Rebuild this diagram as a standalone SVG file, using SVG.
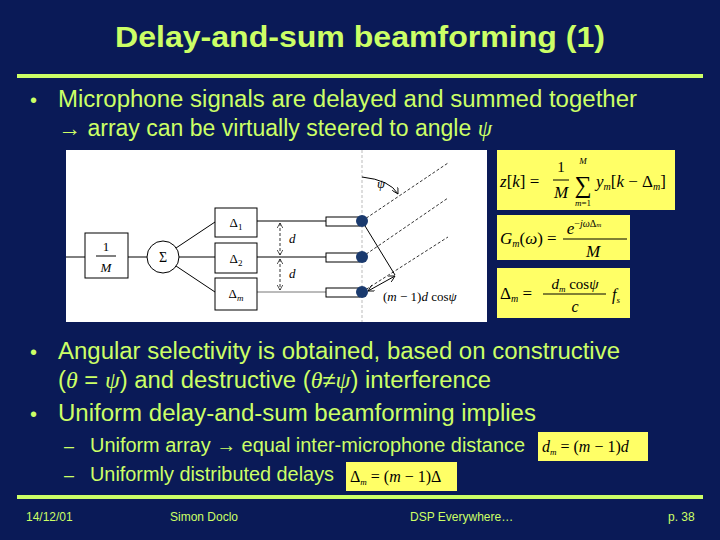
<svg xmlns="http://www.w3.org/2000/svg" width="720" height="540" viewBox="0 0 720 540">
<style>
.t{font-family:"Liberation Sans",Arial,sans-serif;fill:#ccff66}
.m{font-family:"Liberation Serif","Times New Roman",serif;fill:#000}
.i{font-style:italic}
.blk{stroke:#000;fill:#fff;stroke-width:1}
.ln{stroke:#000;stroke-width:1;fill:none}
.ds{stroke:#000;stroke-width:0.8;stroke-dasharray:3,2;fill:none}
.y{fill:#ffff66}
</style>
<defs>
<marker id="ah" viewBox="0 0 10 10" refX="9" refY="5" markerWidth="7" markerHeight="7" orient="auto-start-reverse"><path d="M0,0 L9,5 L0,10" fill="none" stroke="#000" stroke-width="1.2"/></marker>
</defs>
<rect width="720" height="540" fill="#0a1a57"/>
<text class="t" x="115" y="47" font-size="30" font-weight="bold" textLength="490" lengthAdjust="spacingAndGlyphs">Delay-and-sum beamforming (1)</text>
<rect x="17" y="74" width="686" height="4" fill="#ccff66"/>
<rect x="17" y="495" width="686" height="4" fill="#ccff66"/>
<text class="t" x="30" y="107" font-size="20">•</text>
<text class="t" x="58" y="107" font-size="23" textLength="579" lengthAdjust="spacingAndGlyphs">Microphone signals are delayed and summed together</text>
<text class="t" x="58" y="136" font-size="23" textLength="434" lengthAdjust="spacingAndGlyphs"><tspan>→ array can be virtually steered to angle </tspan><tspan class="i" font-family="Liberation Serif">ψ</tspan></text>
<text class="t" x="30" y="359" font-size="20">•</text>
<text class="t" x="58" y="359" font-size="23" textLength="562" lengthAdjust="spacingAndGlyphs">Angular selectivity is obtained, based on constructive</text>
<text class="t" x="58" y="388" font-size="23" textLength="433" lengthAdjust="spacingAndGlyphs">(<tspan font-family="Liberation Serif" class="i">θ</tspan> = <tspan font-family="Liberation Serif" class="i">ψ</tspan>) and destructive (<tspan font-family="Liberation Serif" class="i">θ</tspan>≠<tspan font-family="Liberation Serif" class="i">ψ</tspan>) interference</text>
<text class="t" x="30" y="421" font-size="20">•</text>
<text class="t" x="58" y="421" font-size="23" textLength="478" lengthAdjust="spacingAndGlyphs">Uniform delay-and-sum beamforming implies</text>
<text class="t" x="64" y="452" font-size="18">–</text>
<text class="t" x="90" y="452" font-size="20" textLength="435" lengthAdjust="spacingAndGlyphs">Uniform array → equal inter-microphone distance</text>
<text class="t" x="64" y="481" font-size="18">–</text>
<text class="t" x="90" y="481" font-size="20" textLength="244" lengthAdjust="spacingAndGlyphs">Uniformly distributed delays</text>
<g font-size="12" class="t">
<text class="t" x="26" y="521">14/12/01</text>
<text class="t" x="170" y="521">Simon Doclo</text>
<text class="t" x="410" y="521">DSP Everywhere…</text>
<text class="t" x="668" y="521">p. 38</text>
</g>

<!-- diagram -->
<rect x="66" y="150" width="421" height="172" fill="#fff"/>
<g id="connectors">
<line class="ln" x1="66" y1="257" x2="85" y2="257"/>
<line class="ln" x1="128" y1="257" x2="147" y2="257"/>
<line class="ln" x1="176" y1="248" x2="215" y2="222"/>
<line class="ln" x1="179" y1="257" x2="215" y2="257"/>
<line class="ln" x1="176" y1="266" x2="215" y2="292"/>
<line class="ln" x1="257" y1="221" x2="326" y2="221"/>
<line class="ln" x1="257" y1="257" x2="326" y2="257"/>
<line x1="257" y1="292" x2="326" y2="292" stroke="#777" stroke-width="1"/>
<line x1="362" y1="150" x2="362" y2="322" stroke="#aaa" stroke-width="0.8" stroke-dasharray="3,2"/>
<line class="ds" x1="280" y1="223" x2="280" y2="255" marker-start="url(#ah)" marker-end="url(#ah)"/>
<line class="ds" x1="280" y1="259" x2="280" y2="290" marker-start="url(#ah)" marker-end="url(#ah)"/>
<line class="ds" x1="362" y1="221" x2="448" y2="163"/>
<line class="ds" x1="362" y1="257" x2="448" y2="198"/>
<line class="ds" x1="362" y1="292" x2="448" y2="237"/>
<path class="ln" d="M362,177 Q390,180 398,194" marker-end="url(#ah)"/>
<line class="ln" x1="362" y1="221" x2="395" y2="275"/>
<line class="ln" x1="395" y1="276" x2="368" y2="291" stroke-width="1.4" marker-start="url(#ah)" marker-end="url(#ah)"/>
</g>
<g id="scale"><rect class="blk" x="85" y="233" width="43" height="45"/>
<text class="m" x="106" y="251" font-size="13" text-anchor="middle">1</text>
<line class="ln" x1="96" y1="256" x2="116" y2="256"/>
<text class="m i" x="106" y="272" font-size="13" text-anchor="middle">M</text></g>
<g id="sum"><circle class="blk" cx="163" cy="257" r="16"/><text class="m" x="163" y="262" font-size="14" text-anchor="middle">Σ</text></g>
<g id="d1"><rect class="blk" x="215" y="208" width="42" height="29"/><text class="m" x="236" y="227" font-size="13" text-anchor="middle">Δ<tspan font-size="9" dy="3">1</tspan></text></g>
<g id="d2"><rect class="blk" x="215" y="243" width="42" height="30"/><text class="m" x="236" y="263" font-size="13" text-anchor="middle">Δ<tspan font-size="9" dy="3">2</tspan></text></g>
<g id="dm"><rect class="blk" x="215" y="278" width="42" height="32"/><text class="m" x="236" y="298" font-size="13" text-anchor="middle">Δ<tspan font-size="9" dy="3" class="i">m</tspan></text></g>
<g id="mic1"><rect class="blk" x="326" y="217" width="34" height="9"/><circle cx="362" cy="221" r="6" fill="#1a3a6e"/></g>
<g id="mic2"><rect class="blk" x="326" y="253" width="34" height="9"/><circle cx="362" cy="257" r="6" fill="#1a3a6e"/></g>
<g id="mic3"><rect class="blk" x="326" y="288" width="34" height="9"/><circle cx="362" cy="292" r="6" fill="#1a3a6e"/></g>
<text class="m i" x="289" y="243" font-size="13">d</text>
<text class="m i" x="289" y="278" font-size="13">d</text>
<text class="m i" x="377" y="188" font-size="13">ψ</text>
<text class="m" x="383" y="301" font-size="13">(<tspan class="i">m</tspan> − 1)<tspan class="i">d</tspan> cos<tspan class="i">ψ</tspan></text>

<!-- formulas -->
<g id="f1"><rect class="y" x="497" y="150" width="178" height="60"/>
<text class="m" x="500" y="187" font-size="17"><tspan class="i">z</tspan>[<tspan class="i">k</tspan>] =</text>
<text class="m" x="561" y="172" font-size="15" text-anchor="middle">1</text>
<line class="ln" x1="553" y1="180" x2="569" y2="180"/>
<text class="m i" x="561" y="198" font-size="17" text-anchor="middle">M</text>
<text class="m i" x="583" y="164" font-size="9" text-anchor="middle">M</text>
<text class="m" x="583" y="193" font-size="24" text-anchor="middle">∑</text>
<text class="m" x="583" y="206" font-size="9" text-anchor="middle"><tspan class="i">m</tspan>=1</text>
<text class="m" x="596" y="187" font-size="17"><tspan class="i">y</tspan><tspan font-size="10" dy="3" class="i">m</tspan><tspan dy="-3">[</tspan><tspan class="i">k</tspan> − Δ<tspan font-size="10" dy="3" class="i">m</tspan><tspan dy="-3">]</tspan></text></g>
<g id="f2"><rect class="y" x="497" y="215" width="133" height="45"/>
<text class="m" x="500" y="244" font-size="17"><tspan class="i">G</tspan><tspan font-size="10" dy="3" class="i">m</tspan><tspan dy="-3">(</tspan><tspan class="i">ω</tspan>) =</text>
<text class="m" x="584" y="234" font-size="17" text-anchor="middle"><tspan class="i">e</tspan><tspan font-size="10" dy="-7">−<tspan class="i">jω</tspan>Δ<tspan class="i" font-size="7">m</tspan></tspan></text>
<line class="ln" x1="563" y1="239" x2="627" y2="239"/>
<text class="m i" x="593" y="257" font-size="17" text-anchor="middle">M</text></g>
<g id="f3"><rect class="y" x="497" y="268" width="133" height="50"/>
<text class="m" x="500" y="299" font-size="17">Δ<tspan font-size="10" dy="3" class="i">m</tspan><tspan dy="-3"> =</tspan></text>
<text class="m" x="575" y="289" font-size="15" text-anchor="middle"><tspan class="i">d</tspan><tspan font-size="9" dy="3" class="i">m</tspan><tspan dy="-3"> cos</tspan><tspan class="i">ψ</tspan></text>
<line class="ln" x1="543" y1="294" x2="606" y2="294"/>
<text class="m i" x="575" y="312" font-size="16" text-anchor="middle">c</text>
<text class="m i" x="612" y="300" font-size="16">f<tspan font-size="9" dy="3">s</tspan></text></g>
<g id="f4"><rect class="y" x="538" y="432" width="110" height="29"/>
<text class="m" x="542" y="452" font-size="16"><tspan class="i">d</tspan><tspan font-size="9" dy="3" class="i">m</tspan><tspan dy="-3"> = (</tspan><tspan class="i">m</tspan> − 1)<tspan class="i">d</tspan></text></g>
<g id="f5"><rect class="y" x="346" y="462" width="111" height="29"/>
<text class="m" x="350" y="482" font-size="16">Δ<tspan font-size="9" dy="3" class="i">m</tspan><tspan dy="-3"> = (</tspan><tspan class="i">m</tspan> − 1)Δ</text></g>
</svg>
